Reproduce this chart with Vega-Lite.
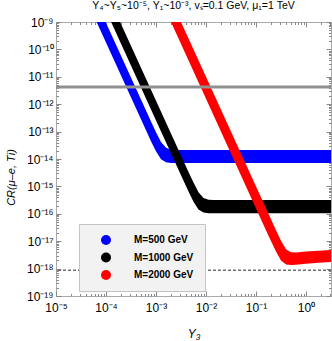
{
  "$schema": "https://vega.github.io/schema/vega-lite/v6.json",
  "width": 275,
  "height": 274,
  "autosize": {"type": "none"},
  "padding": {"left": 56, "top": 22, "right": 1, "bottom": 45},
  "title": {"text": "Y₄~Y₅~10⁻⁵,  Y₁~10⁻³,  vₛ=0.1 GeV,  μ₁=1 TeV", "font": "Liberation Sans", "fontSize": 10.5, "fontWeight": "normal", "color": "#000000", "anchor": "middle", "offset": 5},
  "datasets": {
    "bands": [
      {"M": "M=500 GeV", "Y3": 5.623e-5, "hi": 9.33e-9, "lo": 1.778e-9},
      {"M": "M=500 GeV", "Y3": 5.623e-4, "hi": 9.33e-13, "lo": 1.778e-13},
      {"M": "M=500 GeV", "Y3": 7.943e-4, "hi": 2.344e-13, "lo": 4.467e-14},
      {"M": "M=500 GeV", "Y3": 1e-3, "hi": 9.55e-14, "lo": 1.905e-14},
      {"M": "M=500 GeV", "Y3": 1.259e-3, "hi": 4.169e-14, "lo": 9.77e-15},
      {"M": "M=500 GeV", "Y3": 1.585e-3, "hi": 2.57e-14, "lo": 7.586e-15},
      {"M": "M=500 GeV", "Y3": 1.995e-3, "hi": 2.188e-14, "lo": 7.079e-15},
      {"M": "M=500 GeV", "Y3": 2.512e-3, "hi": 2.138e-14, "lo": 7.079e-15},
      {"M": "M=500 GeV", "Y3": 3.162, "hi": 2.138e-14, "lo": 7.079e-15},
      {"M": "M=1000 GeV", "Y3": 1e-4, "hi": 1.349e-8, "lo": 2.57e-9},
      {"M": "M=1000 GeV", "Y3": 3.162e-3, "hi": 1.349e-14, "lo": 2.57e-15},
      {"M": "M=1000 GeV", "Y3": 4.467e-3, "hi": 3.388e-15, "lo": 6.53e-16},
      {"M": "M=1000 GeV", "Y3": 5.623e-3, "hi": 1.38e-15, "lo": 2.754e-16},
      {"M": "M=1000 GeV", "Y3": 7.079e-3, "hi": 6.166e-16, "lo": 1.445e-16},
      {"M": "M=1000 GeV", "Y3": 8.913e-3, "hi": 3.802e-16, "lo": 1.122e-16},
      {"M": "M=1000 GeV", "Y3": 1.122e-2, "hi": 3.236e-16, "lo": 1.047e-16},
      {"M": "M=1000 GeV", "Y3": 1.413e-2, "hi": 3.162e-16, "lo": 1.047e-16},
      {"M": "M=1000 GeV", "Y3": 3.162, "hi": 3.162e-16, "lo": 1.047e-16},
      {"M": "M=2000 GeV", "Y3": 1.778e-3, "hi": 1e-8, "lo": 1.585e-9},
      {"M": "M=2000 GeV", "Y3": 0.1778, "hi": 1e-16, "lo": 1.585e-17},
      {"M": "M=2000 GeV", "Y3": 0.2512, "hi": 2.512e-17, "lo": 4.169e-18},
      {"M": "M=2000 GeV", "Y3": 0.3162, "hi": 1.035e-17, "lo": 1.995e-18},
      {"M": "M=2000 GeV", "Y3": 0.3981, "hi": 5.129e-18, "lo": 1.413e-18},
      {"M": "M=2000 GeV", "Y3": 0.5012, "hi": 3.981e-18, "lo": 1.349e-18},
      {"M": "M=2000 GeV", "Y3": 0.631, "hi": 3.846e-18, "lo": 1.38e-18},
      {"M": "M=2000 GeV", "Y3": 1.0, "hi": 4.169e-18, "lo": 1.514e-18},
      {"M": "M=2000 GeV", "Y3": 1.778, "hi": 4.467e-18, "lo": 1.622e-18},
      {"M": "M=2000 GeV", "Y3": 3.162, "hi": 4.786e-18, "lo": 1.738e-18}
    ],
    "limits": [
      {"kind": "current", "CR": 4.2e-12},
      {"kind": "future", "CR": 8.7e-19}
    ]
  },
  "layer": [
    {
      "data": {"name": "bands"},
      "transform": [{"filter": "datum.M == 'M=500 GeV'"}],
      "mark": {"type": "area", "orient": "vertical", "clip": true},
      "encoding": {
        "x": {"field": "Y3", "type": "quantitative",
          "scale": {"type": "log", "domain": [1e-5, 3.1623], "nice": false},
          "axis": {"orient": "bottom",
            "values": [1e-5,2e-5,3e-5,4e-5,5e-5,6e-5,7e-5,8e-5,9e-5,1e-4,2e-4,3e-4,4e-4,5e-4,6e-4,7e-4,8e-4,9e-4,1e-3,2e-3,3e-3,4e-3,5e-3,6e-3,7e-3,8e-3,9e-3,0.01,0.02,0.03,0.04,0.05,0.06,0.07,0.08,0.09,0.1,0.2,0.3,0.4,0.5,0.6,0.7,0.8,0.9,1,2,3],
            "labelExpr": "(abs(log(datum.value)/LN10 - round(log(datum.value)/LN10)) > 0.001) ? '' : ['10⁻⁵','10⁻⁴','10⁻³','10⁻²','10⁻¹','10⁰'][round(log(datum.value)/LN10)+5]",
            "labelFlush": false, "labelOverlap": false, "labelPadding": 11,
            "tickSize": {"condition": {"test": "abs(log(datum.value)/LN10 - round(log(datum.value)/LN10)) < 0.001", "value": -5}, "value": -2.5},
            "title": "Y₃", "titleFontStyle": "italic", "titleFontWeight": "normal", "titleFontSize": 12, "titleY": 41, "titleBaseline": "alphabetic"}},
        "y": {"field": "hi", "type": "quantitative",
          "scale": {"type": "log", "domain": [1e-19, 1e-9], "nice": false},
          "axis": {"orient": "left",
            "values": [1e-19,2e-19,3e-19,4e-19,5e-19,6e-19,7e-19,8e-19,9e-19,1e-18,2e-18,3e-18,4e-18,5e-18,6e-18,7e-18,8e-18,9e-18,1e-17,2e-17,3e-17,4e-17,5e-17,6e-17,7e-17,8e-17,9e-17,1e-16,2e-16,3e-16,4e-16,5e-16,6e-16,7e-16,8e-16,9e-16,1e-15,2e-15,3e-15,4e-15,5e-15,6e-15,7e-15,8e-15,9e-15,1e-14,2e-14,3e-14,4e-14,5e-14,6e-14,7e-14,8e-14,9e-14,1e-13,2e-13,3e-13,4e-13,5e-13,6e-13,7e-13,8e-13,9e-13,1e-12,2e-12,3e-12,4e-12,5e-12,6e-12,7e-12,8e-12,9e-12,1e-11,2e-11,3e-11,4e-11,5e-11,6e-11,7e-11,8e-11,9e-11,1e-10,2e-10,3e-10,4e-10,5e-10,6e-10,7e-10,8e-10,9e-10,1e-9],
            "labelExpr": "(abs(log(datum.value)/LN10 - round(log(datum.value)/LN10)) > 0.001) ? '' : ['10⁻¹⁹','10⁻¹⁸','10⁻¹⁷','10⁻¹⁶','10⁻¹⁵','10⁻¹⁴','10⁻¹³','10⁻¹²','10⁻¹¹','10⁻¹⁰','10⁻⁹'][round(log(datum.value)/LN10)+19]",
            "labelFlush": false, "labelOverlap": false, "labelPadding": 8,
            "tickSize": {"condition": {"test": "abs(log(datum.value)/LN10 - round(log(datum.value)/LN10)) < 0.001", "value": -5}, "value": -2.5},
            "title": "CR(μ–e, Ti)", "titleFontStyle": "italic", "titleFontWeight": "normal", "titleFontSize": 11, "titleX": -42, "titleY": 155, "titleBaseline": "alphabetic"}},
        "y2": {"field": "lo"},
        "color": {"field": "M", "type": "nominal",
          "scale": {"domain": ["M=500 GeV", "M=1000 GeV", "M=2000 GeV"], "range": ["#0000ff", "#000000", "#ff0000"]},
          "legend": {"orient": "none", "legendX": 23, "legendY": 202, "title": null,
            "symbolType": "circle", "symbolSize": 100, "symbolStrokeWidth": 0,
            "labelFont": "Liberation Sans", "labelFontSize": 10, "labelFontWeight": "bold", "labelColor": "#000000",
            "fillColor": "#f2f2f2", "strokeColor": "#c4c4c4", "padding": 11, "rowPadding": 7.5,
            "symbolOffset": 11, "labelOffset": 23}}
      }
    },
    {
      "data": {"name": "bands"},
      "transform": [{"filter": "datum.M == 'M=1000 GeV'"}],
      "mark": {"type": "area", "orient": "vertical", "clip": true},
      "encoding": {
        "x": {"field": "Y3", "type": "quantitative", "scale": {"type": "log", "domain": [1e-5, 3.1623], "nice": false}, "axis": null},
        "y": {"field": "hi", "type": "quantitative", "scale": {"type": "log", "domain": [1e-19, 1e-9], "nice": false}, "axis": null},
        "y2": {"field": "lo"},
        "color": {"field": "M", "type": "nominal"}
      }
    },
    {
      "data": {"name": "bands"},
      "transform": [{"filter": "datum.M == 'M=2000 GeV'"}],
      "mark": {"type": "area", "orient": "vertical", "clip": true},
      "encoding": {
        "x": {"field": "Y3", "type": "quantitative", "scale": {"type": "log", "domain": [1e-5, 3.1623], "nice": false},
          "axis": {"orient": "top", "labels": false, "title": null,
            "values": [1e-5,2e-5,3e-5,4e-5,5e-5,6e-5,7e-5,8e-5,9e-5,1e-4,2e-4,3e-4,4e-4,5e-4,6e-4,7e-4,8e-4,9e-4,1e-3,2e-3,3e-3,4e-3,5e-3,6e-3,7e-3,8e-3,9e-3,0.01,0.02,0.03,0.04,0.05,0.06,0.07,0.08,0.09,0.1,0.2,0.3,0.4,0.5,0.6,0.7,0.8,0.9,1,2,3],
            "tickSize": {"condition": {"test": "abs(log(datum.value)/LN10 - round(log(datum.value)/LN10)) < 0.001", "value": -5}, "value": -2.5}}},
        "y": {"field": "hi", "type": "quantitative", "scale": {"type": "log", "domain": [1e-19, 1e-9], "nice": false},
          "axis": {"orient": "right", "labels": false, "title": null,
            "values": [1e-19,2e-19,3e-19,4e-19,5e-19,6e-19,7e-19,8e-19,9e-19,1e-18,2e-18,3e-18,4e-18,5e-18,6e-18,7e-18,8e-18,9e-18,1e-17,2e-17,3e-17,4e-17,5e-17,6e-17,7e-17,8e-17,9e-17,1e-16,2e-16,3e-16,4e-16,5e-16,6e-16,7e-16,8e-16,9e-16,1e-15,2e-15,3e-15,4e-15,5e-15,6e-15,7e-15,8e-15,9e-15,1e-14,2e-14,3e-14,4e-14,5e-14,6e-14,7e-14,8e-14,9e-14,1e-13,2e-13,3e-13,4e-13,5e-13,6e-13,7e-13,8e-13,9e-13,1e-12,2e-12,3e-12,4e-12,5e-12,6e-12,7e-12,8e-12,9e-12,1e-11,2e-11,3e-11,4e-11,5e-11,6e-11,7e-11,8e-11,9e-11,1e-10,2e-10,3e-10,4e-10,5e-10,6e-10,7e-10,8e-10,9e-10,1e-9],
            "tickSize": {"condition": {"test": "abs(log(datum.value)/LN10 - round(log(datum.value)/LN10)) < 0.001", "value": -5}, "value": -2.5}}},
        "y2": {"field": "lo"},
        "color": {"field": "M", "type": "nominal"}
      }
    },
    {
      "data": {"name": "limits"},
      "transform": [{"filter": "datum.kind == 'current'"}],
      "mark": {"type": "rule", "color": "#909090", "strokeWidth": 3},
      "encoding": {
        "y": {"field": "CR", "type": "quantitative", "scale": {"type": "log", "domain": [1e-19, 1e-9], "nice": false}, "axis": null}
      }
    },
    {
      "data": {"name": "limits"},
      "transform": [{"filter": "datum.kind == 'future'"}],
      "mark": {"type": "rule", "color": "#707070", "strokeWidth": 1.5, "strokeDash": [3, 2]},
      "encoding": {
        "y": {"field": "CR", "type": "quantitative", "scale": {"type": "log", "domain": [1e-19, 1e-9], "nice": false}, "axis": null}
      }
    }
  ],
  "resolve": {"axis": {"x": "independent", "y": "independent"}},
  "config": {
    "view": {"stroke": "#aaaaaa", "strokeWidth": 1},
    "font": "Liberation Sans",
    "axis": {"domain": false, "grid": false, "tickColor": "#888888", "tickWidth": 1,
      "labelFont": "Liberation Sans", "labelFontSize": 12, "labelColor": "#000000",
      "titleFont": "Liberation Sans", "titleColor": "#000000"}
  }
}
